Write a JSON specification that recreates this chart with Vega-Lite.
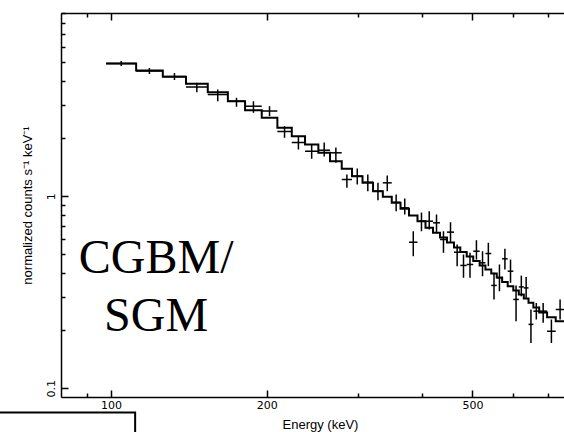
{
  "$schema": "https://vega.github.io/schema/vega-lite/v6.json",
  "width": 503,
  "height": 384,
  "autosize": {"type": "none"},
  "padding": {"left": 61, "top": 13, "right": 0, "bottom": 35},
  "background": "white",
  "config": {
    "view": {"stroke": null},
    "axis": {
      "grid": false,
      "domainColor": "black",
      "domainWidth": 1.5,
      "tickColor": "black",
      "tickWidth": 1.5,
      "labelFont": "DejaVu Sans",
      "labelFontSize": 11,
      "labelColor": "black",
      "labelOverlap": false,
      "labelFlush": false,
      "titleFont": "Liberation Sans",
      "titleFontSize": 13,
      "titleFontWeight": "normal",
      "titleColor": "black"
    }
  },
  "datasets": {
    "model": [
      {"E": 97.8, "rate": 4.911}, {"E": 111.8, "rate": 4.515}, {"E": 125.9, "rate": 4.186}, {"E": 139.6, "rate": 3.85},
      {"E": 153.8, "rate": 3.481}, {"E": 168.2, "rate": 3.125}, {"E": 181.6, "rate": 2.805}, {"E": 195.6, "rate": 2.561},
      {"E": 209.7, "rate": 2.271}, {"E": 223.6, "rate": 2.054}, {"E": 237.2, "rate": 1.859}, {"E": 251.7, "rate": 1.683},
      {"E": 265.1, "rate": 1.522}, {"E": 279.3, "rate": 1.389}, {"E": 292.4, "rate": 1.271}, {"E": 306.4, "rate": 1.174},
      {"E": 321.1, "rate": 1.062}, {"E": 335.4, "rate": 0.993}, {"E": 349.0, "rate": 0.924}, {"E": 362.9, "rate": 0.86},
      {"E": 376.9, "rate": 0.793}, {"E": 391.4, "rate": 0.741}, {"E": 405.6, "rate": 0.685}, {"E": 419.4, "rate": 0.645},
      {"E": 432.7, "rate": 0.609}, {"E": 446.3, "rate": 0.574}, {"E": 460.5, "rate": 0.541}, {"E": 473.6, "rate": 0.512},
      {"E": 487.3, "rate": 0.485}, {"E": 501.7, "rate": 0.46}, {"E": 516.2, "rate": 0.436}, {"E": 529.7, "rate": 0.415},
      {"E": 543.6, "rate": 0.396}, {"E": 557.1, "rate": 0.377}, {"E": 570.6, "rate": 0.357}, {"E": 584.9, "rate": 0.34},
      {"E": 599.7, "rate": 0.323}, {"E": 614.6, "rate": 0.308}, {"E": 628.4, "rate": 0.293}, {"E": 641.7, "rate": 0.279},
      {"E": 655.8, "rate": 0.263}, {"E": 673.0, "rate": 0.248}, {"E": 697.1, "rate": 0.234}, {"E": 724.4, "rate": 0.223},
      {"E": 753.1, "rate": 0.223}
    ],
    "obs": [
      {"E": 104.6, "Elo": 97.8, "Ehi": 111.8, "rate": 4.91, "lo": 4.77, "hi": 5.06},
      {"E": 118.6, "Elo": 111.8, "Ehi": 125.9, "rate": 4.488, "lo": 4.329, "hi": 4.653},
      {"E": 132.6, "Elo": 125.9, "Ehi": 139.6, "rate": 4.201, "lo": 4.029, "hi": 4.382},
      {"E": 146.5, "Elo": 139.6, "Ehi": 153.8, "rate": 3.705, "lo": 3.481, "hi": 3.896},
      {"E": 160.8, "Elo": 153.8, "Ehi": 168.2, "rate": 3.385, "lo": 3.125, "hi": 3.595},
      {"E": 174.8, "Elo": 168.2, "Ehi": 181.6, "rate": 3.125, "lo": 2.922, "hi": 3.255},
      {"E": 188.5, "Elo": 181.6, "Ehi": 195.6, "rate": 2.943, "lo": 2.719, "hi": 3.125},
      {"E": 202.5, "Elo": 195.6, "Ehi": 209.7, "rate": 2.778, "lo": 2.61, "hi": 2.943},
      {"E": 216.5, "Elo": 209.7, "Ehi": 223.6, "rate": 2.173, "lo": 2.015, "hi": 2.315},
      {"E": 230.3, "Elo": 223.6, "Ehi": 237.2, "rate": 1.904, "lo": 1.751, "hi": 2.054},
      {"E": 244.3, "Elo": 237.2, "Ehi": 251.7, "rate": 1.715, "lo": 1.566, "hi": 1.859},
      {"E": 258.3, "Elo": 251.7, "Ehi": 265.1, "rate": 1.736, "lo": 1.61, "hi": 1.904},
      {"E": 272.1, "Elo": 265.1, "Ehi": 279.3, "rate": 1.683, "lo": 1.493, "hi": 1.794},
      {"E": 285.8, "Elo": 279.3, "Ehi": 292.4, "rate": 1.222, "lo": 1.106, "hi": 1.297},
      {"E": 299.3, "Elo": 292.4, "Ehi": 306.4, "rate": 1.271, "lo": 1.151, "hi": 1.394},
      {"E": 313.7, "Elo": 306.4, "Ehi": 321.1, "rate": 1.183, "lo": 1.062, "hi": 1.297},
      {"E": 328.2, "Elo": 321.1, "Ehi": 335.4, "rate": 1.062, "lo": 0.953, "hi": 1.174},
      {"E": 342.1, "Elo": 335.4, "Ehi": 349.0, "rate": 1.174, "lo": 1.062, "hi": 1.282},
      {"E": 355.9, "Elo": 349.0, "Ehi": 362.9, "rate": 0.93, "lo": 0.835, "hi": 1.021},
      {"E": 369.8, "Elo": 362.9, "Ehi": 376.9, "rate": 0.87, "lo": 0.803, "hi": 0.973},
      {"E": 384.1, "Elo": 376.9, "Ehi": 391.4, "rate": 0.576, "lo": 0.487, "hi": 0.657},
      {"E": 398.4, "Elo": 391.4, "Ehi": 405.6, "rate": 0.741, "lo": 0.657, "hi": 0.822},
      {"E": 412.4, "Elo": 405.6, "Ehi": 419.4, "rate": 0.741, "lo": 0.671, "hi": 0.835},
      {"E": 426.0, "Elo": 419.4, "Ehi": 432.7, "rate": 0.727, "lo": 0.645, "hi": 0.803},
      {"E": 439.4, "Elo": 432.7, "Ehi": 446.3, "rate": 0.595, "lo": 0.507, "hi": 0.657},
      {"E": 453.4, "Elo": 446.3, "Ehi": 460.5, "rate": 0.65, "lo": 0.572, "hi": 0.732},
      {"E": 467.0, "Elo": 460.5, "Ehi": 473.6, "rate": 0.511, "lo": 0.432, "hi": 0.56},
      {"E": 480.4, "Elo": 473.6, "Ehi": 487.3, "rate": 0.436, "lo": 0.376, "hi": 0.497},
      {"E": 494.5, "Elo": 487.3, "Ehi": 501.7, "rate": 0.441, "lo": 0.376, "hi": 0.507},
      {"E": 508.9, "Elo": 501.7, "Ehi": 516.2, "rate": 0.517, "lo": 0.468, "hi": 0.59},
      {"E": 522.9, "Elo": 516.2, "Ehi": 529.7, "rate": 0.45, "lo": 0.383, "hi": 0.517},
      {"E": 536.6, "Elo": 529.7, "Ehi": 543.6, "rate": 0.503, "lo": 0.432, "hi": 0.572},
      {"E": 550.3, "Elo": 543.6, "Ehi": 557.1, "rate": 0.343, "lo": 0.29, "hi": 0.399},
      {"E": 563.8, "Elo": 557.1, "Ehi": 570.6, "rate": 0.376, "lo": 0.32, "hi": 0.441},
      {"E": 577.7, "Elo": 570.6, "Ehi": 584.9, "rate": 0.472, "lo": 0.415, "hi": 0.532},
      {"E": 592.3, "Elo": 584.9, "Ehi": 599.7, "rate": 0.407, "lo": 0.354, "hi": 0.468},
      {"E": 607.1, "Elo": 599.7, "Ehi": 614.6, "rate": 0.29, "lo": 0.223, "hi": 0.343},
      {"E": 621.5, "Elo": 614.6, "Ehi": 628.4, "rate": 0.337, "lo": 0.301, "hi": 0.386},
      {"E": 635.0, "Elo": 628.4, "Ehi": 641.7, "rate": 0.333, "lo": 0.296, "hi": 0.38},
      {"E": 648.7, "Elo": 641.7, "Ehi": 655.8, "rate": 0.215, "lo": 0.172, "hi": 0.257},
      {"E": 664.4, "Elo": 655.8, "Ehi": 673.0, "rate": 0.252, "lo": 0.228, "hi": 0.278},
      {"E": 685.0, "Elo": 673.0, "Ehi": 697.1, "rate": 0.252, "lo": 0.219, "hi": 0.278},
      {"E": 710.6, "Elo": 697.1, "Ehi": 724.4, "rate": 0.198, "lo": 0.172, "hi": 0.228},
      {"E": 738.6, "Elo": 724.4, "Ehi": 753.1, "rate": 0.257, "lo": 0.228, "hi": 0.29}
    ],
    "labels": [
      {"label": "CGBM/", "E": 122.2, "rate": 0.396},
      {"label": "SGM", "E": 122.2, "rate": 0.198}
    ],
    "frag": [
      {"E": 55, "rate": 0.0747, "order": 1},
      {"E": 111.3, "rate": 0.0747, "order": 2},
      {"E": 111.3, "rate": 0.05, "order": 3}
    ]
  },
  "resolve": {"axis": {"x": "independent", "y": "independent"}},
  "layer": [
    {
      "data": {"name": "model"},
      "mark": {"type": "line", "interpolate": "step-after", "color": "black", "strokeWidth": 2, "clip": true},
      "encoding": {
        "x": {"field": "E", "type": "quantitative",
          "scale": {"type": "log", "domain": [80, 751.6], "nice": false},
          "axis": {"orient": "bottom", "values": [100, 200, 500], "tickSize": -7, "labelPadding": 9, "labelBaseline": "top",
            "title": "Energy (keV)", "titleX": 259, "titleY": 31, "titleBaseline": "alphabetic", "titleAlign": "center"}},
        "y": {"field": "rate", "type": "quantitative",
          "scale": {"type": "log", "domain": [0.09, 9], "nice": false},
          "axis": {"orient": "left", "values": [0.1, 1], "tickSize": -7, "labelAngle": 270, "labelAlign": "center",
            "labelBaseline": "alphabetic", "labelPadding": 14,
            "title": "normalized counts s⁻¹ keV⁻¹", "titleAngle": 270, "titleX": -29.5, "titleY": 192,
            "titleAlign": "center", "titleBaseline": "alphabetic"}}
      }
    },
    {
      "data": {"name": "obs"},
      "mark": {"type": "rule", "color": "black", "strokeWidth": 1.5, "clip": true},
      "encoding": {
        "x": {"field": "Elo", "type": "quantitative",
          "axis": {"orient": "bottom", "values": [90, 300, 400, 600, 700], "tickSize": -4, "labels": false, "title": null, "domain": false}},
        "x2": {"field": "Ehi"},
        "y": {"field": "rate", "type": "quantitative",
          "axis": {"orient": "left", "values": [0.2, 0.3, 0.4, 0.5, 0.6, 0.7, 0.8, 0.9, 2, 3, 4, 5, 6, 7, 8, 9], "tickSize": -4, "labels": false, "title": null, "domain": false}}
      }
    },
    {
      "data": {"name": "obs"},
      "mark": {"type": "rule", "color": "black", "strokeWidth": 1.5, "clip": true},
      "encoding": {
        "x": {"field": "E", "type": "quantitative",
          "axis": {"orient": "top", "values": [100, 200, 500], "tickSize": -7, "labels": false, "title": null}},
        "y": {"field": "lo", "type": "quantitative", "axis": null},
        "y2": {"field": "hi"}
      }
    },
    {
      "data": {"name": "labels"},
      "mark": {"type": "text", "font": "Liberation Serif", "fontSize": 48, "align": "center", "baseline": "alphabetic", "color": "black"},
      "encoding": {
        "x": {"field": "E", "type": "quantitative",
          "axis": {"orient": "top", "values": [90, 300, 400, 600, 700], "tickSize": -4, "labels": false, "title": null, "domain": false}},
        "y": {"field": "rate", "type": "quantitative", "axis": null},
        "text": {"field": "label"}
      }
    },
    {
      "data": {"name": "frag"},
      "mark": {"type": "line", "color": "black", "strokeWidth": 2, "clip": false},
      "encoding": {
        "x": {"field": "E", "type": "quantitative", "axis": null},
        "y": {"field": "rate", "type": "quantitative", "axis": null},
        "order": {"field": "order"}
      }
    }
  ]
}
